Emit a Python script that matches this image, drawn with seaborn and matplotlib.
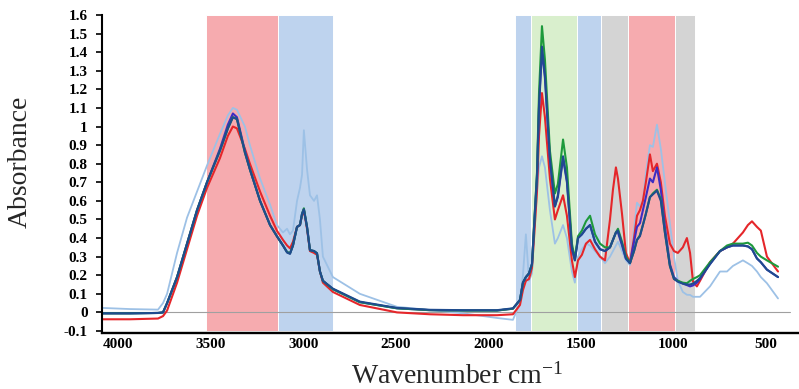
import numpy as np
import pandas as pd
import matplotlib
matplotlib.use("Agg")
import matplotlib.pyplot as plt
import seaborn as sns

# ---------------- data ----------------
wavenumber = [4084, 3938, 3786, 3759, 3737, 3683, 3629, 3575, 3521, 3451,
              3408, 3381, 3359, 3316, 3289, 3234, 3180, 3143, 3110, 3088,
              3072, 3056, 3034, 3018, 3007, 2997, 2980, 2964, 2942, 2926,
              2910, 2894, 2840, 2694, 2493, 2315, 2136, 1952, 1866, 1828,
              1812, 1796, 1779, 1763, 1752, 1736, 1725, 1709, 1693, 1666,
              1639, 1623, 1595, 1574, 1547, 1531, 1514, 1493, 1471, 1449,
              1422, 1395, 1368, 1341, 1325, 1309, 1298, 1276, 1255, 1233,
              1211, 1195, 1179, 1163, 1147, 1125, 1109, 1087, 1066, 1044,
              1017, 995, 974, 947, 925, 908, 892, 871, 854, 800,
              746, 708, 676, 622, 595, 573, 546, 525, 492, 432]

abs_lightblue = [0.024, 0.018, 0.015, 0.05, 0.10, 0.32, 0.51, 0.65, 0.79, 0.96,
                 1.06, 1.10, 1.09, 1.00, 0.90, 0.72, 0.58, 0.47, 0.43, 0.45,
                 0.42, 0.44, 0.60, 0.67, 0.74, 0.98, 0.77, 0.63, 0.60, 0.63,
                 0.50, 0.30, 0.19, 0.10, 0.03, 0.013, -0.005, -0.03, -0.04, 0.05,
                 0.20, 0.42, 0.17, 0.21, 0.40, 0.65, 0.78, 0.84, 0.78, 0.55,
                 0.37, 0.40, 0.47, 0.40, 0.22, 0.16, 0.30, 0.34, 0.37, 0.36,
                 0.33, 0.30, 0.265, 0.30, 0.33, 0.36, 0.38, 0.33, 0.28, 0.255,
                 0.45, 0.59, 0.57, 0.60, 0.75, 0.90, 0.89, 1.01, 0.88, 0.70,
                 0.48, 0.30, 0.17, 0.11, 0.095, 0.094, 0.084, 0.084, 0.084, 0.14,
                 0.22, 0.22, 0.25, 0.28, 0.264, 0.25, 0.22, 0.19, 0.157, 0.075]

abs_red = [-0.037, -0.037, -0.033, -0.02, 0.01, 0.16, 0.34, 0.52, 0.67, 0.83,
           0.95, 1.00, 0.99, 0.88, 0.80, 0.65, 0.52, 0.44, 0.39, 0.36,
           0.345, 0.38, 0.46, 0.47, 0.52, 0.55, 0.45, 0.33, 0.32, 0.31,
           0.22, 0.16, 0.11, 0.04, 0.00, -0.01, -0.015, -0.015, -0.01, 0.04,
           0.12, 0.17, 0.18, 0.24, 0.40, 0.65, 0.95, 1.18, 1.05, 0.72,
           0.50, 0.55, 0.63, 0.52, 0.28, 0.19, 0.28, 0.31, 0.37, 0.39,
           0.34, 0.30, 0.28, 0.50, 0.66, 0.78, 0.72, 0.53, 0.32, 0.265,
           0.40, 0.52, 0.55, 0.60, 0.70, 0.85, 0.76, 0.80, 0.70, 0.52,
           0.37, 0.33, 0.32, 0.35, 0.40, 0.32, 0.165, 0.14, 0.17, 0.27,
           0.33, 0.35, 0.37, 0.43, 0.47, 0.49, 0.46, 0.44, 0.30, 0.22]

abs_green = [-0.005, -0.005, -0.003, 0.0, 0.05, 0.19, 0.37, 0.55, 0.70, 0.87,
             0.99, 1.05, 1.04, 0.86, 0.77, 0.60, 0.47, 0.41, 0.36, 0.325,
             0.318, 0.36, 0.46, 0.47, 0.53, 0.56, 0.46, 0.335, 0.33, 0.318,
             0.22, 0.17, 0.125, 0.055, 0.022, 0.012, 0.01, 0.01, 0.02, 0.067,
             0.16, 0.19, 0.21, 0.26, 0.46, 0.75, 1.18, 1.54, 1.36, 0.87,
             0.64, 0.69, 0.93, 0.78, 0.37, 0.29, 0.41, 0.44, 0.49, 0.52,
             0.42, 0.37, 0.35, 0.35, 0.39, 0.43, 0.45, 0.38, 0.30, 0.265,
             0.33, 0.39, 0.415, 0.47, 0.53, 0.62, 0.64, 0.66, 0.61, 0.43,
             0.25, 0.18, 0.17, 0.16, 0.157, 0.17, 0.18, 0.19, 0.20, 0.27,
             0.33, 0.36, 0.37, 0.37, 0.375, 0.36, 0.32, 0.30, 0.28, 0.246]

abs_violet = [-0.005, -0.005, -0.003, 0.0, 0.05, 0.19, 0.37, 0.55, 0.70, 0.88,
              1.01, 1.07, 1.05, 0.87, 0.77, 0.60, 0.47, 0.41, 0.36, 0.325,
              0.318, 0.36, 0.46, 0.47, 0.53, 0.555, 0.46, 0.335, 0.33, 0.318,
              0.22, 0.17, 0.125, 0.055, 0.022, 0.012, 0.01, 0.01, 0.02, 0.067,
              0.16, 0.19, 0.21, 0.26, 0.45, 0.72, 1.10, 1.41, 1.26, 0.82,
              0.57, 0.62, 0.83, 0.70, 0.34, 0.28, 0.40, 0.42, 0.45, 0.47,
              0.38, 0.34, 0.33, 0.35, 0.39, 0.43, 0.43, 0.36, 0.29, 0.265,
              0.38, 0.46, 0.48, 0.55, 0.62, 0.72, 0.70, 0.78, 0.66, 0.46,
              0.26, 0.19, 0.17, 0.155, 0.147, 0.14, 0.145, 0.16, 0.18, 0.26,
              0.33, 0.35, 0.36, 0.36, 0.355, 0.34, 0.29, 0.27, 0.23, 0.19]

abs_navy = [-0.005, -0.005, -0.003, 0.0, 0.05, 0.19, 0.37, 0.55, 0.70, 0.87,
            0.99, 1.05, 1.04, 0.86, 0.77, 0.60, 0.47, 0.41, 0.36, 0.322,
            0.315, 0.36, 0.46, 0.47, 0.53, 0.555, 0.46, 0.335, 0.33, 0.318,
            0.22, 0.17, 0.128, 0.058, 0.024, 0.014, 0.012, 0.012, 0.022, 0.067,
            0.16, 0.19, 0.21, 0.26, 0.46, 0.74, 1.12, 1.43, 1.28, 0.83,
            0.57, 0.63, 0.84, 0.71, 0.35, 0.28, 0.40, 0.42, 0.45, 0.47,
            0.38, 0.34, 0.33, 0.35, 0.39, 0.43, 0.44, 0.37, 0.29, 0.265,
            0.33, 0.39, 0.41, 0.47, 0.53, 0.62, 0.635, 0.655, 0.60, 0.43,
            0.25, 0.18, 0.165, 0.155, 0.15, 0.15, 0.155, 0.17, 0.185, 0.26,
            0.33, 0.35, 0.36, 0.36, 0.355, 0.34, 0.29, 0.27, 0.23, 0.19]

series_names = ["light blue", "red", "violet", "green", "navy"]

band_start = [3527, 3137, 1853, 1770, 1518, 1388, 1245, 990]
band_end = [3137, 2840, 1770, 1518, 1388, 1245, 990, 881]
band_kind = ["red", "blue", "blue", "green", "blue", "gray", "red", "gray"]

x_ticks = [4000, 3500, 3000, 2500, 2000, 1500, 1000, 500]
y_ticks = [-0.1, 0, 0.1, 0.2, 0.3, 0.4, 0.5, 0.6, 0.7, 0.8, 0.9,
           1, 1.1, 1.2, 1.3, 1.4, 1.5, 1.6]

# ---------------- style ----------------
sns.set_theme(style="white")
plt.rcParams["font.family"] = ["Liberation Serif", "DejaVu Serif"]
plt.rcParams["mathtext.fontset"] = "custom"
plt.rcParams["mathtext.rm"] = "Liberation Serif"
plt.rcParams["mathtext.default"] = "rm"

band_colors = {"red": "#F6ABAF", "blue": "#BED3EE", "green": "#D9EFCD", "gray": "#D4D4D4"}
line_colors = {"light blue": "#9DC1E6", "red": "#E5262A", "violet": "#3D2DC2",
               "green": "#1E9A3C", "navy": "#1F4B8E"}
line_widths = {"light blue": 1.3, "red": 1.5, "violet": 1.5, "green": 1.5, "navy": 1.5}

values = {"light blue": abs_lightblue, "red": abs_red, "violet": abs_violet,
          "green": abs_green, "navy": abs_navy}
frames = [pd.DataFrame({"wavenumber": wavenumber, "absorbance": values[n], "series": n})
          for n in series_names]
df = pd.concat(frames, ignore_index=True)

fig = plt.figure(figsize=(7.99, 3.89), dpi=100)
ax = fig.add_axes([102 / 799, 1 - 333 / 389, (798 - 102) / 799, (333 - 15) / 389])

for s, e, k in zip(band_start, band_end, band_kind):
    ax.fill_betweenx([-0.1, 1.6], s, e, facecolor=band_colors[k],
                     edgecolor="white", linewidth=0.7, zorder=0)

ax.axhline(0, xmin=0, xmax=0.988, color="#A0A0A0", linewidth=0.8, zorder=1)

for n in series_names:
    sub = df[df["series"] == n]
    sns.lineplot(data=sub, x="wavenumber", y="absorbance", ax=ax,
                 color=line_colors[n], linewidth=line_widths[n],
                 estimator=None, sort=False, legend=False, zorder=2)

ax.set_xlim(4089, 324)
ax.set_ylim(-0.1108, 1.6)

ax.set_xticks(x_ticks)
ax.set_xticklabels([str(t) for t in x_ticks], fontweight="bold", fontsize=11)
ax.set_yticks(y_ticks)
ax.set_yticklabels([f"{t:g}" for t in y_ticks], fontweight="bold", fontsize=11)

for side in ["top", "right"]:
    ax.spines[side].set_visible(False)
ax.spines["left"].set_linewidth(1.5)
ax.spines["left"].set_color("black")
ax.spines["bottom"].set_linewidth(1.7)
ax.spines["bottom"].set_color("black")

ax.tick_params(axis="y", direction="out", length=4.3, width=1.2, pad=6, left=True, colors="black")
ax.tick_params(axis="x", length=0, pad=3.5, colors="black")

ax.set_ylabel("Absorbance", fontsize=20)
ax.yaxis.set_label_coords(-0.099, 0.538)
ax.set_xlabel("Wavenumber cm$^{-1}$", fontsize=20)
ax.xaxis.set_label_coords(0.51, -0.095)
ax.xaxis.label.set_verticalalignment("top")

ax.grid(False)
fig.savefig("out.png", dpi=100)
